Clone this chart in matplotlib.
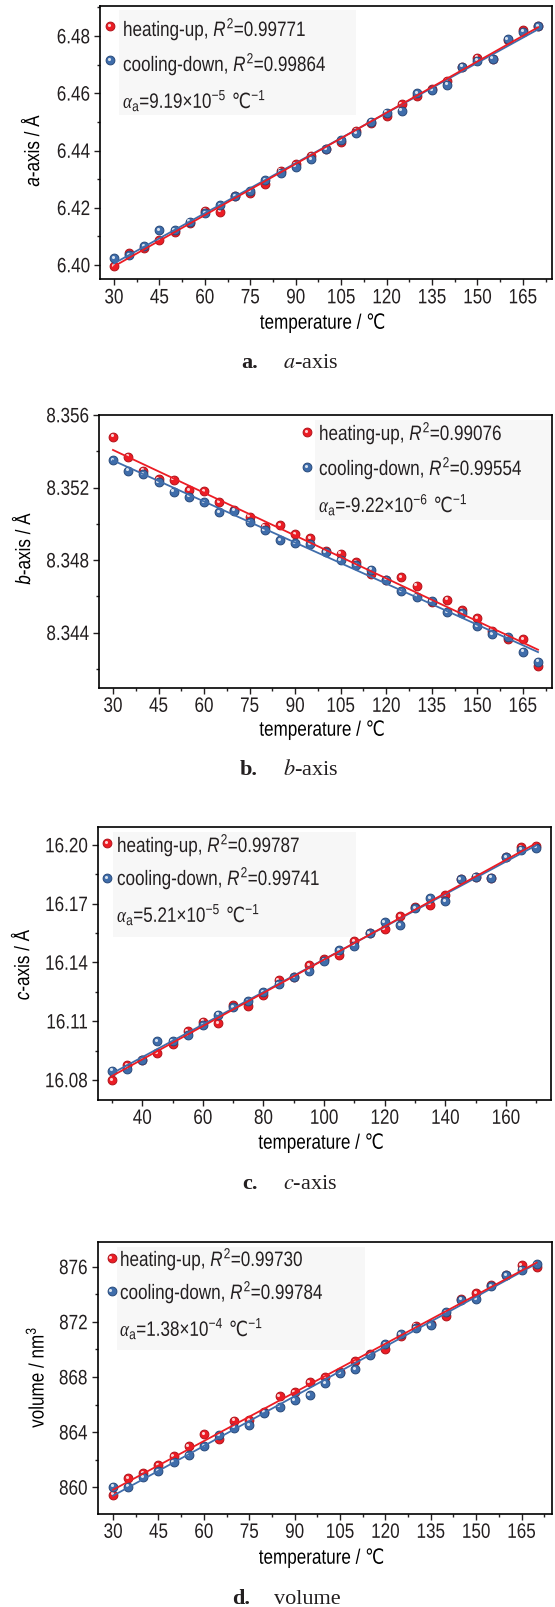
import numpy as np
import matplotlib
matplotlib.use('Agg')
import matplotlib.pyplot as plt
from matplotlib import transforms
from matplotlib.transforms import Affine2D, IdentityTransform
from matplotlib.patches import Rectangle
from matplotlib.patheffects import AbstractPathEffect
from matplotlib.ticker import MultipleLocator, FormatStrFormatter

plt.rcParams['font.family'] = ['Liberation Sans', 'DejaVu Sans']
plt.rcParams['mathtext.fontset'] = 'custom'
plt.rcParams['mathtext.rm'] = 'Liberation Sans'
plt.rcParams['mathtext.it'] = 'Liberation Sans:italic'
plt.rcParams['mathtext.cal'] = 'Liberation Serif:italic'
plt.rcParams['axes.linewidth'] = 1.2
plt.rcParams['text.color'] = '#231f20'
plt.rcParams['xtick.color'] = '#231f20'
plt.rcParams['ytick.color'] = '#231f20'

# temperatures (deg C), shared by all four panels
temperature = [30, 35, 40, 45, 50, 55, 60, 65, 70, 75, 80, 85, 90, 95, 100,
               105, 110, 115, 120, 125, 130, 135, 140, 145, 150, 155, 160, 165, 170]

a_heat = [6.3997, 6.4041, 6.4058, 6.4087, 6.4116, 6.4148, 6.4190, 6.4186, 6.4241, 6.4253,
          6.4282, 6.4330, 6.4353, 6.4382, 6.4406, 6.4431, 6.4469, 6.4495, 6.4522, 6.4561,
          6.4590, 6.4614, 6.4644, 6.4693, 6.4725, 6.4721, 6.4786, 6.4821, 6.4835]
a_cool = [6.4023, 6.4035, 6.4066, 6.4122, 6.4122, 6.4151, 6.4180, 6.4210, 6.4241, 6.4258,
          6.4297, 6.4323, 6.4344, 6.4369, 6.4404, 6.4437, 6.4460, 6.4501, 6.4532, 6.4539,
          6.4600, 6.4611, 6.4630, 6.4693, 6.4714, 6.4721, 6.4788, 6.4815, 6.4835]

b_heat = [8.35481, 8.35370, 8.35293, 8.35247, 8.35243, 8.35187, 8.35179, 8.35119, 8.35077, 8.35040,
          8.34985, 8.34991, 8.34942, 8.34923, 8.34850, 8.34835, 8.34790, 8.34722, 8.34689, 8.34707,
          8.34660, 8.34570, 8.34583, 8.34525, 8.34479, 8.34411, 8.34366, 8.34366, 8.34217]
b_cool = [8.35353, 8.35293, 8.35274, 8.35229, 8.35177, 8.35150, 8.35119, 8.35064, 8.35073, 8.35009,
          8.34964, 8.34909, 8.34894, 8.34887, 8.34845, 8.34799, 8.34772, 8.34748, 8.34693, 8.34631,
          8.34598, 8.34574, 8.34515, 8.34506, 8.34437, 8.34391, 8.34378, 8.34296, 8.34241]

c_heat = [16.0800, 16.0874, 16.0903, 16.0937, 16.0985, 16.1049, 16.1097, 16.1091, 16.1182, 16.1179,
          16.1234, 16.1311, 16.1328, 16.1388, 16.1417, 16.1436, 16.1508, 16.1551, 16.1571, 16.1637,
          16.1685, 16.1695, 16.1745, 16.1825, 16.1839, 16.1834, 16.1937, 16.1988, 16.1997]
c_cool = [16.0848, 16.0857, 16.0903, 16.0999, 16.0999, 16.1028, 16.1080, 16.1134, 16.1170, 16.1203,
          16.1248, 16.1289, 16.1325, 16.1357, 16.1410, 16.1462, 16.1486, 16.1551, 16.1606, 16.1590,
          16.1679, 16.1727, 16.1714, 16.1825, 16.1839, 16.1834, 16.1937, 16.1976, 16.1986]

v_heat = [859.46, 860.68, 861.03, 861.59, 862.25, 862.98, 863.84, 863.49, 864.84, 864.89,
          865.50, 866.64, 866.89, 867.62, 867.99, 868.35, 869.16, 869.70, 870.06, 870.99,
          871.73, 871.85, 872.41, 873.68, 874.09, 874.71, 875.39, 876.12, 876.00]
v_cool = [860.05, 860.05, 860.73, 861.15, 861.83, 862.32, 862.98, 863.76, 864.32, 864.52,
          865.42, 865.86, 866.30, 866.67, 867.57, 868.26, 868.55, 869.58, 870.38, 871.11,
          871.55, 871.77, 872.70, 873.61, 873.63, 874.61, 875.39, 875.80, 876.17]

r2_heat = ['0.99771', '0.99076', '0.99787', '0.99730']
r2_cool = ['0.99864', '0.99554', '0.99741', '0.99784']
alpha_vals = [r'9.19×10$^{-5}$', r'-9.22×10$^{-6}$', r'5.21×10$^{-5}$', r'1.38×10$^{-4}$']
y_labels = [r'$\mathit{a}$-axis / Å', r'$\mathit{b}$-axis / Å',
            r'$\mathit{c}$-axis / Å', r'volume / nm$^3$']
captions = [('a.', r'$\mathit{a}$-axis'), ('b.', r'$\mathit{b}$-axis'),
            ('c.', r'$\mathit{c}$-axis'), ('d.', 'volume')]

RED, RED_EDGE = '#ec1c24', '#b0121a'
BLUE, BLUE_EDGE = '#3f6dab', '#27497a'

# condensed look: small sans font, glyphs stretched upward
FS = 12.3
K = 15 / FS


class Tall(AbstractPathEffect):
    def __init__(self, anchor='baseline', k=K):
        super().__init__()
        self._anchor = anchor
        self._k = k

    def draw_path(self, renderer, gc, tpath, affine, rgbFace=None):
        ext = tpath.get_extents()
        y0 = {'baseline': 0.0, 'top': ext.y1, 'center': 0.5 * (ext.y0 + ext.y1)}[self._anchor]
        stretch = Affine2D().translate(0, -y0).scale(1, self._k).translate(0, y0)
        renderer.draw_path(gc, tpath, stretch + affine, rgbFace)


W, H = 555, 1607
fig = plt.figure(figsize=(W / 100, H / 100), dpi=100)
renderer = fig.canvas.get_renderer()

# panel layout in pixels: axes box, limits, ticks, legend/caption placement
panels = [
    dict(box=(100, 6, 552, 279), xlim=(25.4, 174.6), ylim=(6.3951, 6.4905),
         xmaj=15, ymaj=0.02, fmt='%.2f', ylab=(31, 150),
         mark=(110, 26, 60), text=(123, 36, 71, 108), abox=(119, 10, 356, 115),
         xlab=323, cap=(241, 283, 368)),
    dict(box=(99, 415, 552, 687.5), xlim=(25.4, 174.6), ylim=(8.34098, 8.356),
         xmaj=15, ymaj=0.004, fmt='%.3f', ylab=(22, 548),
         mark=(307, 432, 467), text=(319, 440, 475, 512), abox=(315, 420, 552, 520),
         xlab=730, cap=(240, 283, 775)),
    dict(box=(97.7, 827, 551.3, 1099.5), xlim=(25.3, 174.95), ylim=(16.070, 16.2092),
         xmaj=20, ymaj=0.03, fmt='%.2f', ylab=(21, 964),
         mark=(107, 843, 878), text=(117, 852, 885, 922), abox=(113, 832, 356, 937),
         xlab=1143, cap=(242, 283, 1189)),
    dict(box=(97.5, 1242, 552.4, 1513.5), xlim=(24.84, 175.2), ylim=(858.1, 877.8),
         xmaj=15, ymaj=4, fmt='%d', ylab=(35, 1377),
         mark=(111.5, 1258, 1291), text=(120, 1266, 1299, 1336), abox=(117, 1247, 365, 1350),
         xlab=1558, cap=(232, 274, 1604)),
]
series = [(a_heat, a_cool), (b_heat, b_cool), (c_heat, c_cool), (v_heat, v_cool)]


def spheres(ax, x, y, color, edge, z, trans=None):
    base = ax.transData if trans is None else trans
    ax.scatter(x, y, s=40, color=color, edgecolors=edge, linewidths=0.7, zorder=z,
               transform=base, clip_on=False)
    shine = transforms.offset_copy(base, fig=fig, x=-1.3, y=1.3, units='dots')
    ax.scatter(x, y, s=5, color='white', alpha=0.8, linewidths=0, transform=shine,
               zorder=z + 0.1, clip_on=False)


def text_row(ax, x, y, pieces):
    # lay pieces left to right on one baseline, in display pixels
    for s in pieces:
        t = ax.text(x, y, s, transform=IdentityTransform(), fontsize=FS, va='baseline',
                    ha='left', zorder=7, path_effects=[Tall('baseline')])
        x = t.get_window_extent(renderer).x1


axes = []
for i, p in enumerate(panels):
    L, T, R, B = p['box']
    ax = fig.add_axes([L / W, 1 - B / H, (R - L) / W, (B - T) / H])
    axes.append(ax)

    def fx(px):
        return (px - L) / (R - L)

    def fy(py):
        return (B - py) / (B - T)

    heat, cool = series[i]
    spheres(ax, temperature, heat, RED, RED_EDGE, 3)
    spheres(ax, temperature, cool, BLUE, BLUE_EDGE, 4)
    ends = np.array([temperature[0], temperature[-1]])
    ax.plot(ends, np.polyval(np.polyfit(temperature, cool, 1), ends), color=BLUE, lw=1.3, zorder=5)
    ax.plot(ends, np.polyval(np.polyfit(temperature, heat, 1), ends), color=RED, lw=1.3, zorder=6)

    ax.set_xlim(*p['xlim'])
    ax.set_ylim(*p['ylim'])
    ax.xaxis.set_major_locator(MultipleLocator(p['xmaj']))
    ax.xaxis.set_minor_locator(MultipleLocator(p['xmaj'] / 2))
    ax.yaxis.set_major_locator(MultipleLocator(p['ymaj']))
    ax.yaxis.set_minor_locator(MultipleLocator(p['ymaj'] / 2))
    ax.yaxis.set_major_formatter(FormatStrFormatter(p['fmt']))
    ax.tick_params(which='both', direction='out', top=False, right=False, width=1.0)
    ax.tick_params(which='major', length=4, labelsize=FS, pad=3)
    ax.tick_params(which='minor', length=2.5)

    ax.set_xlabel('temperature / ℃', fontsize=FS, path_effects=[Tall('center')])
    ax.xaxis.set_label_coords(0.5 - 3 / (R - L), fy(p['xlab']))
    ax.xaxis.label.set_va('center')
    ax.set_ylabel(y_labels[i], fontsize=FS, path_effects=[Tall('center')])
    ax.yaxis.set_label_coords(fx(p['ylab'][0]), fy(p['ylab'][1]))
    ax.yaxis.label.set_va('center')

    # legend block with a faint backdrop
    bx0, by0, bx1, by1 = p['abox']
    ax.add_patch(Rectangle((fx(bx0), fy(by1)), fx(bx1) - fx(bx0), fy(by0) - fy(by1),
                           transform=ax.transAxes, color='#f7f7f7', lw=0, zorder=0.5))
    mx, my1, my2 = p['mark']
    tx, ty1, ty2, ty3 = p['text']
    spheres(ax, [fx(mx)], [fy(my1)], RED, RED_EDGE, 7, trans=ax.transAxes)
    spheres(ax, [fx(mx)], [fy(my2)], BLUE, BLUE_EDGE, 7, trans=ax.transAxes)
    ax.text(fx(tx), fy(ty1), 'heating-up, $\\mathit{R}^2$=' + r2_heat[i], transform=ax.transAxes,
            fontsize=FS, va='baseline', ha='left', zorder=7, path_effects=[Tall('baseline')])
    ax.text(fx(tx), fy(ty2), 'cooling-down, $\\mathit{R}^2$=' + r2_cool[i], transform=ax.transAxes,
            fontsize=FS, va='baseline', ha='left', zorder=7, path_effects=[Tall('baseline')])
    ox, oy = ax.transAxes.transform((fx(tx), fy(ty3)))
    text_row(ax, ox, oy, [r'$\mathcal{\alpha}_\mathrm{a}$=' + alpha_vals[i], ' ℃', r'$^{-1}$'])

    # panel caption below the axes
    cx0, cx1, cy = p['cap']
    fig.text(cx0 / W, 1 - cy / H, captions[i][0], family='Liberation Serif', weight='bold',
             fontsize=16, va='baseline', ha='left')
    fig.text(cx1 / W, 1 - cy / H, captions[i][1], family='Liberation Serif', math_fontfamily='stix',
             fontsize=16, va='baseline', ha='left')

# tick labels exist after a first draw; give them the same condensed look
fig.canvas.draw()
for ax in axes:
    for lab in ax.get_xticklabels():
        lab.set_path_effects([Tall('top')])
    for lab in ax.get_yticklabels():
        lab.set_path_effects([Tall('center')])

fig.savefig('out.png', dpi=100)
